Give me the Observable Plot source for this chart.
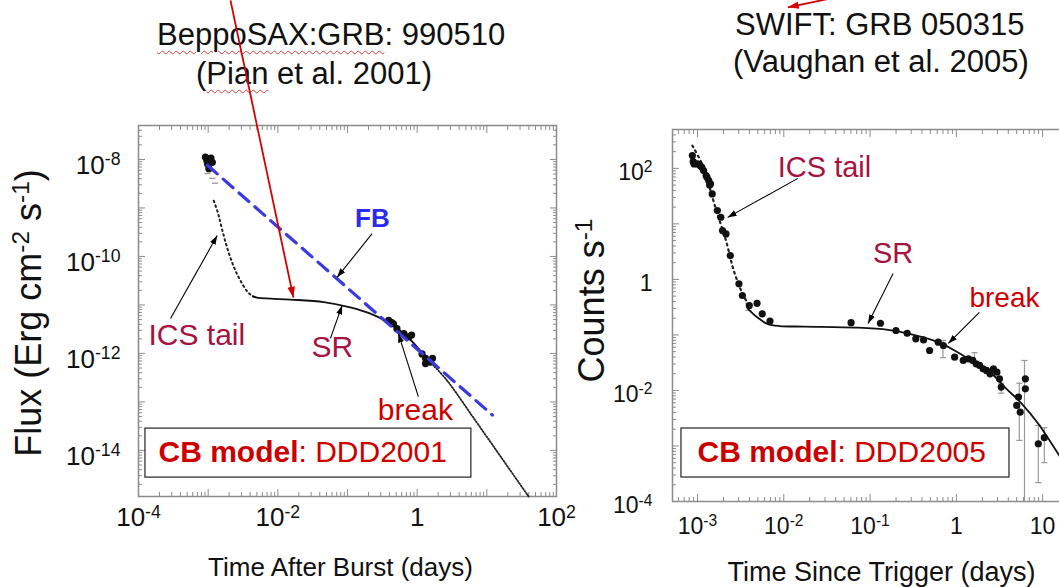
<!DOCTYPE html>
<html><head><meta charset="utf-8">
<script src="https://cdn.jsdelivr.net/npm/d3@7"></script>
<script src="https://cdn.jsdelivr.net/npm/@observablehq/plot@0.6"></script>
<style>
html,body{margin:0;padding:0;background:#fff;}
#wrap{position:relative;width:1059px;height:587px;overflow:hidden;font-family:"Liberation Sans",Arial,sans-serif;}
.title{position:absolute;white-space:nowrap;font-size:31px;color:#111;line-height:normal;}
.sq{text-decoration:underline wavy #e23b3b;text-decoration-thickness:1px;text-underline-offset:5px;}
#wrap svg{position:absolute;top:0;max-width:none;overflow:visible;}
</style></head><body>
<div id="wrap">
<div class="title" style="left:157px;top:17px"><span class="sq">BeppoSAX:GRB</span>: 990510</div>
<div class="title" style="left:196px;top:56px">(<span class="sq">Pian</span> et al. 2001)</div>
<div class="title" style="left:735px;top:7px">SWIFT: GRB 050315</div>
<div class="title" style="left:733px;top:44px">(Vaughan et al. 2005)</div>
</div>
<script>
// ---------- Left panel: BeppoSAX GRB 990510 (log10 days, log10 flux) ----------
const saxDataLogT = [-3.04,-2.99,-2.94,-3.01,-2.99,-3.02,-2.96,-0.41,-0.37,-0.34,-0.29,-0.19,-0.12,-0.08,0.07,0.12,0.14,0.19,0.12,0.22];
const saxDataLogF = [-7.95,-7.99,-8.06,-8.09,-8.19,-8.02,-7.97,-11.32,-11.36,-11.39,-11.49,-11.59,-11.66,-11.62,-12.01,-12.10,-12.14,-12.18,-12.21,-12.10];
const saxFaintLogT = [-3.01,-2.94,-2.90];
const saxFaintLogF = [-8.29,-8.39,-8.49];
const saxIcsLogT = [-2.92,-2.86,-2.82,-2.73,-2.63,-2.54,-2.44,-2.36,-2.30];
const saxIcsLogF = [-8.85,-9.10,-9.33,-9.81,-10.22,-10.49,-10.72,-10.82,-10.85];
const saxSrLogT = [-2.36,-2.30,-2.10,-1.82,-1.34,-0.96,-0.67,-0.43,-0.19,0.09,0.25];
const saxSrLogF = [-10.82,-10.85,-10.87,-10.89,-10.94,-11.05,-11.18,-11.35,-11.59,-12.01,-12.27];
const saxTailLogT = [0.25,0.43,0.80,1.20,1.60];
const saxTailLogF = [-12.27,-12.56,-13.31,-14.13,-14.95];
const saxFbLogT = [-3.01,1.08];
const saxFbLogF = [-8.12,-13.27];
const saxXTickLabels = [1e-4,1e-2,1,1e2];
const saxYTickLabels = [1e-14,1e-12,1e-10,1e-8];
const saxIcsNote = {text:"ICS tail", t:-3.857, f:-11.63};
const saxNotes = [
  {text:"SR", t:-1.217, f:-11.87, kind:"crimson"},
  {text:"break", t:-0.026, f:-13.18, kind:"red"}
];
const saxFbNote = {text:"FB", t:-0.643, f:-9.22};
const saxArrows = [
  {t1:-3.54,f1:-11.28,t2:-2.87,f2:-9.57},
  {t1:-0.647,f1:-9.53,t2:-1.149,f2:-10.43},
  {t1:-1.245,f1:-11.69,t2:-1.077,f2:-11.01},
  {t1:0.017,f1:-12.89,t2:-0.27,f2:-11.59}
];
const saxRedArrow = [{t1:-2.68,f1:-4.72,t2:-1.776,f2:-10.85}];
const saxBox = {t1:-3.90,t2:0.778,f1:-13.55,f2:-14.56};
const saxBoxText = {text:"*CB model*: DDD2001", t:-3.713, f:-14.04};

// ---------- Right panel: SWIFT GRB 050315 (log10 days, log10 counts/s) ----------
const swiftLogT = [-3.06,-3.04,-3.00,-2.97,-2.93,-2.90,-2.87,-2.85,-2.83,-2.77,-2.73,-2.71,-2.67,-2.62,-2.52,-2.48,-2.40,-2.31,-2.25,-2.16,-1.22,-0.88,-0.70,-0.57,-0.47,-0.38,-0.31,-0.21,-0.15,-0.02,0.08,0.14,0.19,0.23,0.27,0.31,0.35,0.39,0.43,0.47,0.50,0.52,0.72,0.70,0.74,0.80,0.80,0.95,1.02,-3.05,-2.95,-2.89,-2.86];
const swiftLogC = [2.23,2.08,2.08,2.05,1.96,1.87,1.78,1.72,1.54,1.24,1.12,0.88,0.82,0.43,-0.08,-0.29,-0.47,-0.43,-0.62,-0.75,-0.78,-0.79,-0.92,-0.97,-1.07,-1.09,-1.28,-1.13,-1.19,-1.40,-1.46,-1.43,-1.46,-1.52,-1.55,-1.61,-1.64,-1.70,-1.61,-1.67,-1.79,-1.94,-2.12,-2.27,-2.39,-1.79,-1.97,-2.96,-2.85,2.12,2.02,1.84,1.70];
const swiftErrLogT = [-2.41,-0.155,0.21,0.52,0.73,0.79,0.95,1.02];
const swiftErrLo = [-0.56,-1.41,-1.51,-2.05,-2.90,-4.0,-3.66,-3.30];
const swiftErrHi = [-0.43,-1.10,-1.32,-1.87,-1.87,-1.46,-2.63,-2.67];
const swiftIcsLogT = [-3.06,-2.93,-2.85,-2.77,-2.67,-2.58,-2.48,-2.40];
const swiftIcsLogC = [2.41,2.02,1.60,1.18,0.70,0.16,-0.25,-0.48];
const swiftSrLogT = [-2.42,-2.31,-2.19,-2.05,-1.76,-1.14,-0.79,-0.52,-0.21,-0.02,0.17,0.41,0.56,0.76,0.95,1.18,1.30];
const swiftSrLogC = [-0.52,-0.68,-0.80,-0.84,-0.85,-0.87,-0.91,-0.99,-1.13,-1.28,-1.46,-1.70,-1.94,-2.24,-2.60,-3.14,-3.42];
const swiftXTickLabels = [1e-3,1e-2,1e-1,1,10];
const swiftYTickLabels = [1e-4,1e-2,1,1e2];
const swiftIcsNote = {text:"ICS tail", t:-2.070, c:2.018};
const swiftNotes = [
  {text:"SR", t:-0.733, c:0.468, kind:"crimson"},
  {text:"break", t:0.558, c:-0.342, kind:"red"}
];
const swiftArrows = [
  {t1:-1.837,c1:1.82,t2:-2.651,c2:1.117},
  {t1:-0.733,c1:0.108,t2:-1.023,c2:-0.793},
  {t1:0.267,c1:-0.595,t2:-0.093,c2:-1.153}
];
const swiftRedArrow = [{t1:-1.337,c1:5.099,t2:-1.953,c2:4.901}];
const swiftBox = {t1:-3.186,t2:0.616,c1:-2.685,c2:-3.568};
const swiftBoxText = {text:"*CB model*: DDD2005", t:-3.0, c:-3.117};

// ---------- helpers ----------
const P = v => 10 ** v;
const CRIMSON = "#a8123e", RED = "#cc0000", GREY = "#8c8c8c";
const powFmt = v => { const e = Math.round(Math.log10(v)); return e === 0 ? "1" : e === 1 ? "10" : `10^{${e}}`; };
function decades(lo, hi) { return d3.range(lo, hi + 1).map(P); }
function minors(lo, hi, dmin, dmax) {
  const out = [];
  for (let e = lo; e <= hi; e++) for (let m = 2; m <= 9; m++) { const v = m * 10 ** e; if (v >= dmin && v <= dmax) out.push(v); }
  return out;
}
function frameTicks(xMaj, xMin, yMaj, yMin) {
  const st = {stroke: GREY, tickFormat: () => "", label: null, strokeWidth: 1};
  const out = [];
  for (const a of ["bottom","top"]) {
    out.push(Plot.axisX(xMaj, {anchor: a, tickSize: -7, ...st}));
    out.push(Plot.axisX(xMin, {anchor: a, tickSize: -4, ...st}));
  }
  for (const a of ["left","right"]) {
    out.push(Plot.axisY(yMaj, {anchor: a, tickSize: -7, ...st}));
    out.push(Plot.axisY(yMin, {anchor: a, tickSize: -4, ...st}));
  }
  return out;
}
const capSymbol = {draw(ctx, size) { const w = Math.sqrt(size) / 2; ctx.moveTo(-w, 0); ctx.lineTo(w, 0); }};
const SVGNS = "http://www.w3.org/2000/svg";
function enrich(svg) {
  svg.querySelectorAll("text").forEach(t => {
    const s = t.textContent;
    if (!/\^\{|\*/.test(s)) return;
    const fs = parseFloat(getComputedStyle(t).fontSize);
    const parts = s.split(/(\^\{[^}]*\}|\*[^*]*\*)/).filter(p => p !== "");
    while (t.firstChild) t.removeChild(t.firstChild);
    let raised = false;
    for (const p of parts) {
      const ts = document.createElementNS(SVGNS, "tspan");
      if (p.startsWith("^{")) {
        ts.textContent = p.slice(2, -1);
        ts.setAttribute("font-size", (fs * 0.68).toFixed(2));
        ts.setAttribute("dy", (-fs * 0.32).toFixed(2));
        raised = true;
      } else {
        if (p.startsWith("*")) { ts.textContent = p.slice(1, -1); ts.setAttribute("font-weight", "bold"); }
        else ts.textContent = p;
        if (raised) { ts.setAttribute("dy", (fs * 0.32).toFixed(2)); raised = false; }
      }
      t.appendChild(ts);
    }
  });
}
function fixMarkers(svg) {
  svg.querySelectorAll("marker").forEach(m => {
    const col = m.getAttribute("stroke") || "black";
    const big = col.toLowerCase() !== "black";
    m.setAttribute("viewBox", "-5 -5 10 10");
    m.setAttribute("markerUnits", "userSpaceOnUse");
    m.setAttribute("markerWidth", big ? 11 : 9);
    m.setAttribute("markerHeight", big ? 11 : 9);
    m.setAttribute("refX", 5);
    m.setAttribute("refY", 0);
    m.setAttribute("fill", col);
    m.setAttribute("stroke", "none");
    m.innerHTML = '<path d="M-5,-3.4L5,0L-5,3.4Z"></path>';
  });
}
const baseStyle = {fontFamily: '"Liberation Sans", Arial, sans-serif', background: "transparent", overflow: "visible", color: "#111"};
const toLink = a => ({x1: P(a.t1), y1: P(a.f1 ?? a.c1), x2: P(a.t2), y2: P(a.f2 ?? a.c2)});

// ---------- left plot ----------
const saxDomX = [1e-4, 1e2], saxDomY = [P(-14.95), P(-7.3)];
const saxPts = saxDataLogT.map((t, i) => ({t: P(t), f: P(saxDataLogF[i])}));
const saxFaint = saxFaintLogT.map((t, i) => ({t: P(t), f: P(saxFaintLogF[i])}));
const saxIcs = saxIcsLogT.map((t, i) => ({t: P(t), f: P(saxIcsLogF[i])}));
const saxSr = saxSrLogT.map((t, i) => ({t: P(t), f: P(saxSrLogF[i])}));
const saxTail = saxTailLogT.map((t, i) => ({t: P(t), f: P(saxTailLogF[i])}));
const saxFb = saxFbLogT.map((t, i) => ({t: P(t), f: P(saxFbLogF[i])}));

const left = Plot.plot({
  width: 560, height: 587,
  marginLeft: 138, marginRight: 4, marginTop: 125, marginBottom: 91,
  x: {type: "log", domain: saxDomX, label: null},
  y: {type: "log", domain: saxDomY, label: null},
  style: baseStyle,
  marks: [
    Plot.frame({stroke: GREY, strokeWidth: 1.5}),
    ...frameTicks(decades(-4, 2), minors(-4, 1, ...saxDomX), decades(-14, -8), minors(-15, -8, ...saxDomY)),
    Plot.axisX(saxXTickLabels, {anchor: "bottom", tickSize: 0, tickPadding: 11, tickFormat: powFmt, fontSize: 26, fill: "#111", label: null}),
    Plot.axisY(saxYTickLabels, {anchor: "left", tickSize: 0, tickPadding: 18, tickFormat: powFmt, fontSize: 26, fill: "#111", dy: 6, label: null}),
    Plot.text(["Flux (Erg cm^{-2} s^{-1})"], {text: d => d, frameAnchor: "left", textAnchor: "middle", rotate: -90, dx: -98, dy: 2, lineAnchor: "bottom", fontSize: 36, fill: "#111"}),
    Plot.text(["Time After Burst (days)"], {text: d => d, frameAnchor: "bottom", textAnchor: "middle", dx: -7, dy: 79, lineAnchor: "bottom", fontSize: 26, fill: "#111"}),
    Plot.line(saxIcs, {x: "t", y: "f", curve: "catmull-rom", stroke: "#222", strokeWidth: 2, strokeDasharray: "1.6,3.4", strokeLinecap: "round"}),
    Plot.line(saxSr, {x: "t", y: "f", curve: "catmull-rom", stroke: "#111", strokeWidth: 1.8}),
    Plot.line(saxTail, {x: "t", y: "f", curve: "catmull-rom", stroke: "#222", strokeWidth: 1.8, strokeDasharray: "1.2,1.8"}),
    Plot.dot(saxFaint, {x: "t", y: "f", symbol: capSymbol, r: 3.5, stroke: "#999", fill: "none", strokeWidth: 1.3}),
    Plot.dot(saxPts, {x: "t", y: "f", r: 3.6, fill: "#111"}),
    Plot.line(saxFb, {x: "t", y: "f", stroke: "#3a3ae0", strokeWidth: 3.2, strokeDasharray: "13,8"}),
    Plot.link(saxArrows.map(toLink), {x1: "x1", y1: "y1", x2: "x2", y2: "y2", stroke: "black", strokeWidth: 1.1, markerEnd: "arrow"}),
    Plot.link(saxRedArrow.map(toLink), {x1: "x1", y1: "y1", x2: "x2", y2: "y2", stroke: "#d40000", strokeWidth: 1.8, markerEnd: "arrow"}),
    Plot.text([saxIcsNote], {x: d => P(d.t), y: d => P(d.f), text: "text", textAnchor: "start", lineAnchor: "middle", fontSize: 30, fill: CRIMSON}),
    Plot.text(saxNotes, {x: d => P(d.t), y: d => P(d.f), text: "text", textAnchor: "middle", lineAnchor: "middle", fontSize: 30, fill: d => d.kind === "red" ? RED : CRIMSON}),
    Plot.text([saxFbNote], {x: d => P(d.t), y: d => P(d.f), text: "text", fontSize: 26, fontWeight: "bold", fill: "#2a2af0", lineAnchor: "middle"}),
    Plot.rect([saxBox], {x1: d => P(d.t1), x2: d => P(d.t2), y1: d => P(d.f1), y2: d => P(d.f2), fill: "white", stroke: "#222", strokeWidth: 1.2}),
    Plot.text([saxBoxText], {x: d => P(d.t), y: d => P(d.f), text: "text", textAnchor: "start", lineAnchor: "middle", fontSize: 30, fill: RED})
  ]
});
left.style.left = "0px";

// ---------- right plot ----------
const swDomX = [P(-3.29), P(1.30)], swDomY = [1e-4, P(2.7)];
const swPts = swiftLogT.map((t, i) => ({t: P(t), c: P(swiftLogC[i])}));
const swErr = swiftErrLogT.map((t, i) => ({t: P(t), lo: P(swiftErrLo[i]), hi: P(swiftErrHi[i])}));
const swCaps = swErr.flatMap(d => [{t: d.t, c: d.lo}, {t: d.t, c: d.hi}]);
const swIcs = swiftIcsLogT.map((t, i) => ({t: P(t), c: P(swiftIcsLogC[i])}));
const swSr = swiftSrLogT.map((t, i) => ({t: P(t), c: P(swiftSrLogC[i])}));

const right = Plot.plot({
  width: 560, height: 587,
  marginLeft: 112, marginRight: 52, marginTop: 129, marginBottom: 86,
  x: {type: "log", domain: swDomX, label: null},
  y: {type: "log", domain: swDomY, label: null},
  style: baseStyle,
  marks: [
    Plot.frame({stroke: GREY, strokeWidth: 1.5}),
    ...frameTicks(decades(-3, 1), minors(-4, 1, ...swDomX), decades(-4, 2), minors(-4, 2, ...swDomY)),
    Plot.axisX(swiftXTickLabels, {anchor: "bottom", tickSize: 0, tickPadding: 16, tickFormat: powFmt, fontSize: 23, fill: "#111", label: null}),
    Plot.axisY(swiftYTickLabels, {anchor: "left", tickSize: 0, tickPadding: 20, tickFormat: powFmt, fontSize: 23, fill: "#111", dy: 4, label: null}),
    Plot.text(["Counts s^{-1}"], {text: d => d, frameAnchor: "left", textAnchor: "middle", rotate: -90, dx: -69, dy: -15, lineAnchor: "bottom", fontSize: 36, fill: "#111"}),
    Plot.text(["Time Since Trigger (days)"], {text: d => d, frameAnchor: "bottom", textAnchor: "middle", dx: 11, dy: 79, lineAnchor: "bottom", fontSize: 27, fill: "#111"}),
    Plot.ruleX(swErr, {x: "t", y1: "lo", y2: "hi", stroke: "#999", strokeWidth: 1.2}),
    Plot.dot(swCaps, {x: "t", y: "c", symbol: capSymbol, r: 3.5, stroke: "#999", fill: "none", strokeWidth: 1.2}),
    Plot.line(swIcs, {x: "t", y: "c", curve: "catmull-rom", stroke: "#222", strokeWidth: 2.2, strokeDasharray: "1.8,4", strokeLinecap: "round"}),
    Plot.line(swSr, {x: "t", y: "c", curve: "catmull-rom", stroke: "#111", strokeWidth: 1.8}),
    Plot.dot(swPts, {x: "t", y: "c", r: 3.6, fill: "#111"}),
    Plot.link(swiftArrows.map(toLink), {x1: "x1", y1: "y1", x2: "x2", y2: "y2", stroke: "black", strokeWidth: 1.1, markerEnd: "arrow"}),
    Plot.link(swiftRedArrow.map(toLink), {x1: "x1", y1: "y1", x2: "x2", y2: "y2", stroke: "#d40000", strokeWidth: 1.8, markerEnd: "arrow"}),
    Plot.text([swiftIcsNote], {x: d => P(d.t), y: d => P(d.c), text: "text", textAnchor: "start", lineAnchor: "middle", fontSize: 29, fill: CRIMSON}),
    Plot.text(swiftNotes, {x: d => P(d.t), y: d => P(d.c), text: "text", textAnchor: "middle", lineAnchor: "middle", fontSize: d => d.kind === "red" ? 28 : 29, fill: d => d.kind === "red" ? RED : CRIMSON}),
    Plot.rect([swiftBox], {x1: d => P(d.t1), x2: d => P(d.t2), y1: d => P(d.c1), y2: d => P(d.c2), fill: "white", stroke: "#222", strokeWidth: 1.2}),
    Plot.text([swiftBoxText], {x: d => P(d.t), y: d => P(d.c), text: "text", textAnchor: "start", lineAnchor: "middle", fontSize: 30, fill: RED})
  ]
});
right.style.left = "560px";

const wrap = document.getElementById("wrap");
wrap.appendChild(left);
wrap.appendChild(right);
for (const s of [left, right]) { enrich(s); fixMarkers(s); }
</script>
</body></html>
